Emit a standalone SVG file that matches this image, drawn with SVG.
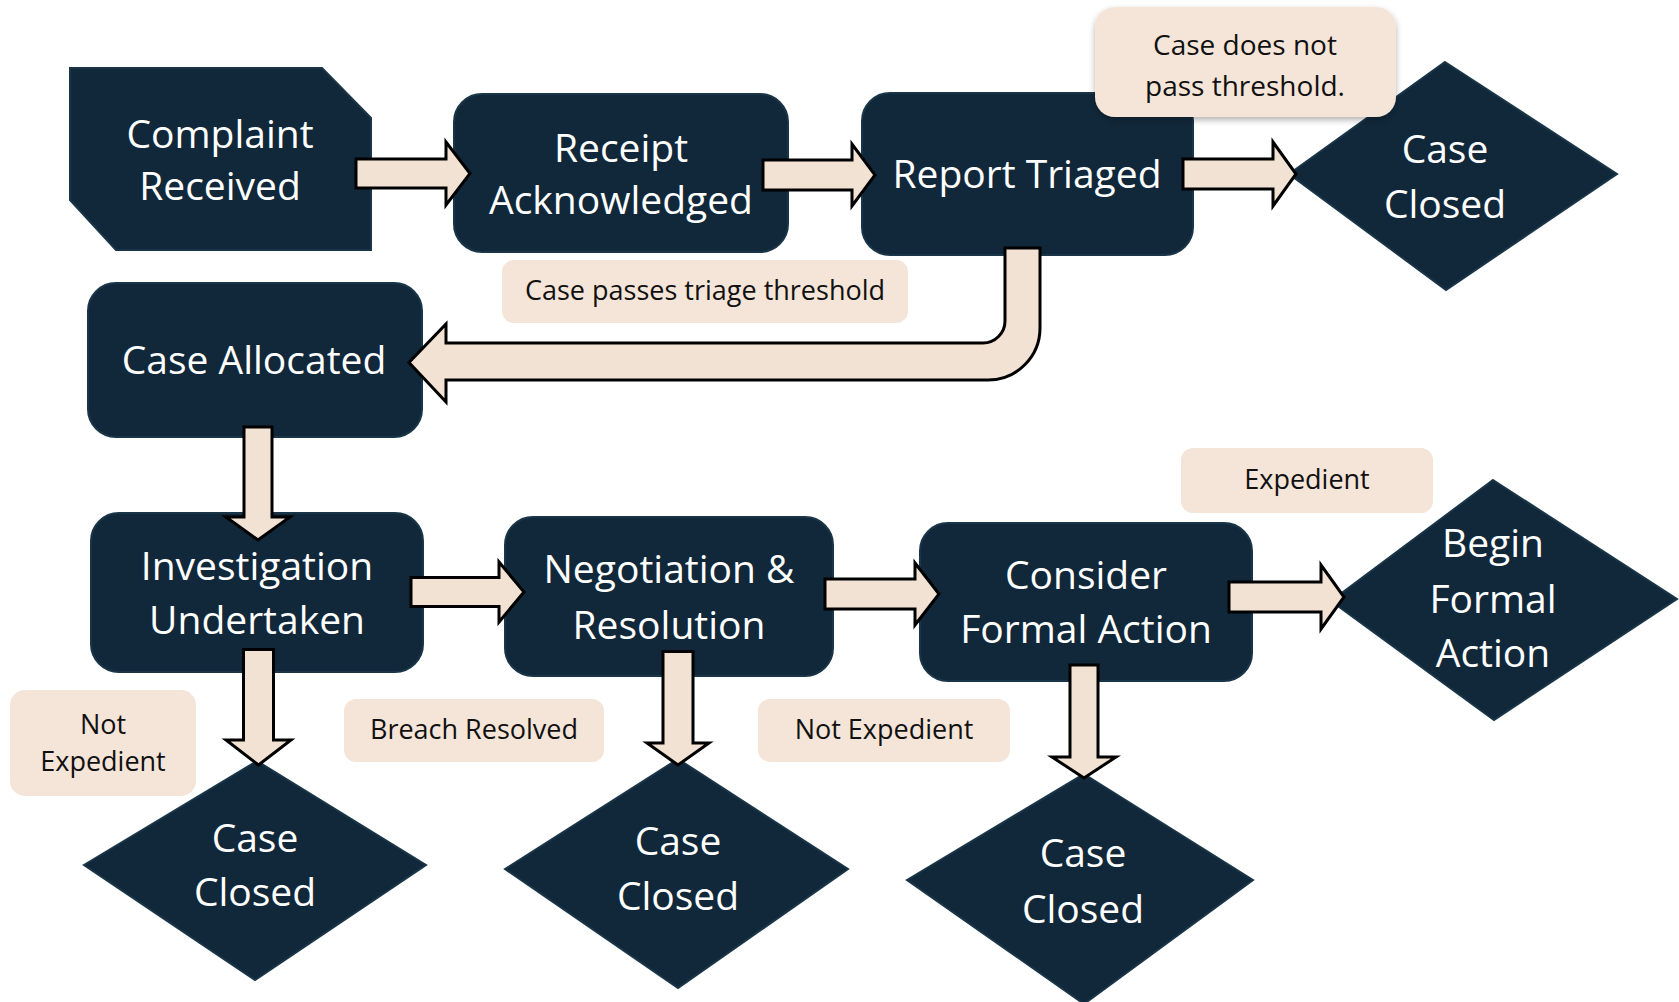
<svg xmlns="http://www.w3.org/2000/svg" width="1679" height="1002" viewBox="0 0 1679 1002">
<defs>
<style>
.node{fill:#11283a;stroke:#1a3547;stroke-width:2}
.nt{font-family:"Open Sans","Noto Sans","DejaVu Sans",sans-serif;font-size:39px;fill:#ffffff;text-anchor:middle}
.note{fill:#f4e5d8}
.lt{font-family:"Open Sans","Noto Sans","DejaVu Sans",sans-serif;font-size:27px;fill:#111111;text-anchor:middle}
.arrow{fill:#f2e2d4;stroke:#000000;stroke-width:3;stroke-linejoin:miter}
</style>
<filter id="shadow" x="-10%" y="-10%" width="120%" height="130%">
<feDropShadow dx="0" dy="3" stdDeviation="3" flood-color="#000000" flood-opacity="0.3"/>
</filter>
</defs>
<rect width="1679" height="1002" fill="#ffffff"/>

<g id="n-complaint">
<polygon class="node" points="70,68 322,68 371,118 371,250 116,250 70,200"/>
<text class="nt" x="220" y="148">Complaint</text>
<text class="nt" x="220" y="200">Received</text>
</g>
<g id="n-receipt">
<rect class="node" x="454" y="94" width="334" height="158" rx="28"/>
<text class="nt" x="621" y="162">Receipt</text>
<text class="nt" x="621" y="214">Acknowledged</text>
</g>
<g id="n-triaged">
<rect class="node" x="862" y="93" width="331" height="162" rx="28"/>
<text class="nt" x="1027" y="188">Report Triaged</text>
</g>
<g id="n-closed-1">
<polygon class="node" points="1445,62 1617,174 1446,290 1289,174"/>
<text class="nt" x="1445" y="163">Case</text>
<text class="nt" x="1445" y="218">Closed</text>
</g>
<g id="n-allocated">
<rect class="node" x="88" y="283" width="334" height="154" rx="28"/>
<text class="nt" x="254" y="374">Case Allocated</text>
</g>
<g id="n-investigation">
<rect class="node" x="91" y="513" width="332" height="159" rx="28"/>
<text class="nt" x="257" y="580">Investigation</text>
<text class="nt" x="257" y="634">Undertaken</text>
</g>
<g id="n-negotiation">
<rect class="node" x="505" y="517" width="328" height="159" rx="28"/>
<text class="nt" x="669" y="583">Negotiation &amp;</text>
<text class="nt" x="669" y="639">Resolution</text>
</g>
<g id="n-consider">
<rect class="node" x="920" y="523" width="332" height="158" rx="28"/>
<text class="nt" x="1086" y="589">Consider</text>
<text class="nt" x="1086" y="643">Formal Action</text>
</g>
<g id="n-begin">
<polygon class="node" points="1493,480 1677,599 1494,720 1331,601"/>
<text class="nt" x="1493" y="557">Begin</text>
<text class="nt" x="1493" y="613">Formal</text>
<text class="nt" x="1493" y="667">Action</text>
</g>
<g id="n-closed-2">
<polygon class="node" points="257,761 426,865 255,980 84,865"/>
<text class="nt" x="255" y="852">Case</text>
<text class="nt" x="255" y="906">Closed</text>
</g>
<g id="n-closed-3">
<polygon class="node" points="678,759 848,869 678,988 505,869"/>
<text class="nt" x="678" y="855">Case</text>
<text class="nt" x="678" y="910">Closed</text>
</g>
<g id="n-closed-4">
<polygon class="node" points="1084,774 1253,880 1084,1004 907,880"/>
<text class="nt" x="1083" y="867">Case</text>
<text class="nt" x="1083" y="923">Closed</text>
</g>

<g id="connectors">
<path class="arrow" d="M356,159 L446,159 L446,142 L470,173.5 L446,205 L446,188 L356,188 Z"/>
<path class="arrow" d="M763,160 L852,160 L852,144 L875,175 L852,206 L852,190 L763,190 Z"/>
<path class="arrow" d="M1183,159 L1273,159 L1273,142 L1296,174 L1273,206 L1273,189 L1183,189 Z"/>
<path class="arrow" d="M1005,248 L1040,248 L1040,328 A52,52 0 0 1 988,380 L446,380 L446,402 L409,362.5 L446,324 L446,343 L983,343 A22,22 0 0 0 1005,321 Z"/>
<path class="arrow" d="M244,427 L272,427 L272,517 L290,517 L258,540 L226,517 L244,517 Z"/>
<path class="arrow" d="M411,577.5 L499,577.5 L499,562 L524,592 L499,622 L499,606.5 L411,606.5 Z"/>
<path class="arrow" d="M825,579 L915,579 L915,563 L939,594 L915,625 L915,609 L825,609 Z"/>
<path class="arrow" d="M1229,582 L1321,582 L1321,565 L1344,597 L1321,629 L1321,612 L1229,612 Z"/>
<path class="arrow" d="M243.5,649.5 L273.5,649.5 L273.5,740 L291,740 L258.5,765 L226,740 L243.5,740 Z"/>
<path class="arrow" d="M663,651.5 L693,651.5 L693,743 L709,743 L678,765 L647,743 L663,743 Z"/>
<path class="arrow" d="M1070,665 L1098,665 L1098,757 L1116,757 L1084,778 L1052,757 L1070,757 Z"/>
</g>

<g id="l-not-pass">
<rect class="note" x="1095" y="7" width="301" height="110" rx="20" filter="url(#shadow)"/>
<text class="lt" x="1245" y="55" style="font-size:28px">Case does not</text>
<text class="lt" x="1245" y="96" style="font-size:28px">pass threshold.</text>
</g>
<g id="l-passes">
<rect class="note" x="502" y="260" width="406" height="63" rx="12"/>
<text class="lt" x="705" y="300">Case passes triage threshold</text>
</g>
<g id="l-expedient">
<rect class="note" x="1181" y="448" width="252" height="65" rx="12"/>
<text class="lt" x="1307" y="489">Expedient</text>
</g>
<g id="l-not-expedient-1">
<rect class="note" x="10" y="690" width="186" height="106" rx="15"/>
<text class="lt" x="103" y="734">Not</text>
<text class="lt" x="103" y="771">Expedient</text>
</g>
<g id="l-breach">
<rect class="note" x="344" y="699" width="260" height="63" rx="12"/>
<text class="lt" x="474" y="739">Breach Resolved</text>
</g>
<g id="l-not-expedient-2">
<rect class="note" x="758" y="699" width="252" height="63" rx="12"/>
<text class="lt" x="884" y="739">Not Expedient</text>
</g>
</svg>
